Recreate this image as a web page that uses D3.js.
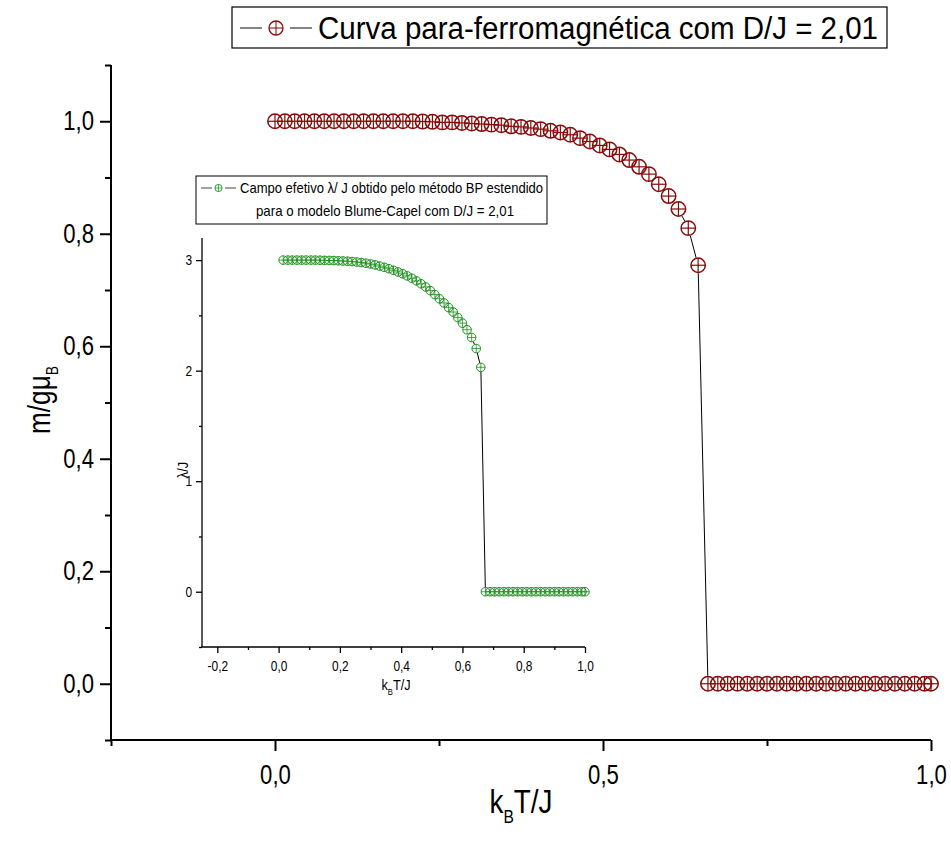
<!DOCTYPE html>
<html>
<head>
<meta charset="utf-8">
<script src="https://cdn.jsdelivr.net/npm/d3@7"></script>
<style>
  body { margin: 0; background: #fff; }
  svg { display: block; }
  text { font-family: "Liberation Sans", Arial, sans-serif; fill: #000; }
</style>
</head>
<body>
<svg id="chart" width="951" height="848"></svg>
<script>
// Magnetization m/gμB versus k_B T/J (Blume-Capel, D/J = 2,01)
const magT = [0, 0.015, 0.03, 0.045, 0.06, 0.075, 0.09, 0.105, 0.12, 0.135, 0.15, 0.165, 0.18, 0.195, 0.21,
  0.225, 0.24, 0.255, 0.27, 0.285, 0.30, 0.315, 0.33, 0.345, 0.36, 0.375, 0.39, 0.405, 0.42, 0.435,
  0.45, 0.465, 0.48, 0.495, 0.51, 0.525, 0.54, 0.555, 0.57, 0.585, 0.60, 0.615, 0.63, 0.645,
  0.66, 0.675, 0.69, 0.705, 0.72, 0.735, 0.75, 0.765, 0.78, 0.795, 0.81, 0.825, 0.84, 0.855,
  0.87, 0.885, 0.90, 0.915, 0.93, 0.945, 0.96, 0.975, 0.99, 1.0];
const magM = [1.000, 1.000, 1.000, 1.000, 1.000, 1.000, 1.000, 1.000, 1.000, 1.000, 1.000, 1.000, 1.000, 1.000, 1.000,
  0.9995, 0.999, 0.998, 0.998, 0.997, 0.996, 0.995, 0.994, 0.993, 0.991, 0.990, 0.988, 0.986, 0.983, 0.980,
  0.976, 0.970, 0.964, 0.957, 0.950, 0.941, 0.931, 0.919, 0.906, 0.888, 0.867, 0.844, 0.810, 0.744,
  0, 0, 0, 0, 0, 0, 0, 0, 0, 0, 0, 0, 0, 0,
  0, 0, 0, 0, 0, 0, 0, 0, 0, 0];

// Effective field λ/J from the extended BP method
const fieldT = [0.015, 0.03, 0.045, 0.06, 0.075, 0.09, 0.105, 0.12, 0.135, 0.15, 0.165, 0.18, 0.195, 0.21,
  0.225, 0.24, 0.255, 0.27, 0.285, 0.30, 0.315, 0.33, 0.345, 0.36, 0.375, 0.39, 0.405, 0.42, 0.435,
  0.45, 0.465, 0.48, 0.495, 0.51, 0.525, 0.54, 0.555, 0.57, 0.585, 0.60, 0.615, 0.63, 0.645, 0.66,
  0.675, 0.69, 0.705, 0.72, 0.735, 0.75, 0.765, 0.78, 0.795, 0.81, 0.825, 0.84, 0.855,
  0.87, 0.885, 0.90, 0.915, 0.93, 0.945, 0.96, 0.975, 0.99, 1.0];
const fieldL = [3.000, 3.000, 3.000, 3.000, 3.000, 3.000, 3.000, 3.000, 2.999, 2.998, 2.997, 2.996, 2.994, 2.992,
  2.990, 2.987, 2.983, 2.978, 2.972, 2.965, 2.957, 2.946, 2.935, 2.922, 2.908, 2.893, 2.876, 2.857, 2.836,
  2.812, 2.786, 2.757, 2.724, 2.688, 2.650, 2.612, 2.570, 2.530, 2.480, 2.430, 2.370, 2.300, 2.200, 2.030,
  0, 0, 0, 0, 0, 0, 0, 0, 0, 0, 0, 0, 0,
  0, 0, 0, 0, 0, 0, 0, 0, 0, 0];

// Axis ticks
const mainXMajor = [0, 0.5, 1.0];
const mainXMinor = [-0.25, 0.25, 0.75];
const mainYMajor = [0, 0.2, 0.4, 0.6, 0.8, 1.0];
const mainYMinor = [-0.1, 0.1, 0.3, 0.5, 0.7, 0.9, 1.1];
const insetXMajor = [-0.2, 0, 0.2, 0.4, 0.6, 0.8, 1.0];
const insetXMinor = [-0.1, 0.1, 0.3, 0.5, 0.7, 0.9];
const insetYMajor = [0, 1, 2, 3];
const insetYMinor = [-0.5, 0.5, 1.5, 2.5];

const legendMain = "Curva para-ferromagnética com D/J = 2,01";
const legendInset1 = "Campo efetivo λ/ J obtido pelo método BP estendido";
const legendInset2 = "para o modelo Blume-Capel com D/J = 2,01";

const fmt = d => d3.format(".1f")(d).replace(".", ",").replace("−", "-");

const svg = d3.select("#chart");
const RED = "#8b0a0a";
const GREEN = "#1d921d";

// Horizontally condense text around its anchor point
function squeeze(sel, k) {
  sel.each(function () {
    const t = d3.select(this);
    const x0 = +t.attr("x") || 0;
    t.attr("x", x0 / k).attr("transform", ((t.attr("transform") || "") + ` scale(${k},1)`).trim());
  });
}

// Main scales
const x = d3.scaleLinear([-0.25, 1.0], [111, 931]);
const y = d3.scaleLinear([-0.1, 1.1], [740, 65]);

// Inset scales
const xi = d3.scaleLinear([-0.25, 1.0], [202, 585]);
const yi = d3.scaleLinear([-0.5, 3.2], [647, 238]);

function drawAxis(g, axisGen, width) {
  g.call(axisGen);
  g.select(".domain").remove();
  g.selectAll("line").attr("stroke", "#000").attr("stroke-width", width);
}

function axes(sx, sy, opt) {
  const g = svg.append("g");
  drawAxis(g.append("g").attr("transform", `translate(0,${sy.range()[0]})`),
    d3.axisBottom(sx).tickValues(opt.xMinor).tickSize(opt.minor).tickFormat(""), opt.w);
  drawAxis(g.append("g").attr("transform", `translate(${sx.range()[0]},0)`),
    d3.axisLeft(sy).tickValues(opt.yMinor).tickSize(opt.minor).tickFormat(""), opt.w);
  const gx = g.append("g").attr("transform", `translate(0,${sy.range()[0]})`);
  drawAxis(gx, d3.axisBottom(sx).tickValues(opt.xMajor).tickSize(opt.major).tickPadding(opt.xPad).tickFormat(fmt), opt.w);
  gx.selectAll("text").attr("font-size", opt.font).attr("fill", "#000").call(squeeze, opt.k);
  const gy = g.append("g").attr("transform", `translate(${sx.range()[0]},0)`);
  drawAxis(gy, d3.axisLeft(sy).tickValues(opt.yMajor).tickSize(opt.major).tickPadding(opt.yPad).tickFormat(opt.yFmt), opt.w);
  gy.selectAll("text").attr("font-size", opt.font).attr("fill", "#000").call(squeeze, opt.k);
  svg.selectAll(".tick text").attr("font-family", null);
  g.attr("font-family", null);
  g.append("line").attr("x1", sx.range()[0] - opt.w / 2).attr("x2", sx.range()[1])
    .attr("y1", sy.range()[0]).attr("y2", sy.range()[0]).attr("stroke", "#000").attr("stroke-width", opt.w);
  g.append("line").attr("x1", sx.range()[0]).attr("x2", sx.range()[0])
    .attr("y1", sy.range()[0]).attr("y2", sy.range()[1]).attr("stroke", "#000").attr("stroke-width", opt.w);
}

// Connecting line with small gaps at each symbol
function gappedLine(xs, ys, sx, sy, gap, width) {
  const pts = xs.map((v, i) => [sx(v), sy(ys[i])]);
  const segs = [];
  for (let i = 0; i < pts.length - 1; i++) {
    const [x1, y1] = pts[i], [x2, y2] = pts[i + 1];
    const L = Math.hypot(x2 - x1, y2 - y1);
    if (L <= 2 * gap) continue;
    const ux = (x2 - x1) / L, uy = (y2 - y1) / L;
    segs.push([x1 + ux * gap, y1 + uy * gap, x2 - ux * gap, y2 - uy * gap]);
  }
  svg.append("g").selectAll("line").data(segs).join("line")
    .attr("x1", d => d[0]).attr("y1", d => d[1]).attr("x2", d => d[2]).attr("y2", d => d[3])
    .attr("stroke", "#000").attr("stroke-width", width);
}

function symbols(parent, pts, r, color, sw) {
  const g = parent.append("g").selectAll("g").data(pts).join("g")
    .attr("transform", d => `translate(${d[0]},${d[1]})`);
  g.append("circle").attr("r", r).attr("fill", "none").attr("stroke", color).attr("stroke-width", sw);
  g.append("line").attr("x1", -r).attr("x2", r).attr("stroke", color).attr("stroke-width", sw * 0.8);
  g.append("line").attr("y1", -r).attr("y2", r).attr("stroke", color).attr("stroke-width", sw * 0.8);
}

// ---------- Main plot ----------
axes(x, y, { xMajor: mainXMajor, xMinor: mainXMinor, yMajor: mainYMajor, yMinor: mainYMinor,
  major: 11, minor: 6, w: 2, font: 27, k: 0.82, xPad: 14, yPad: 6, yFmt: fmt });

gappedLine(magT, magM, x, y, 8, 1);
symbols(svg, magT.map((t, i) => [x(t), y(magM[i])]), 7.2, RED, 1.5);

// Axis titles
const yl = svg.append("text").attr("transform", "translate(50,400) rotate(-90)")
  .attr("text-anchor", "middle").attr("font-size", 32);
yl.append("tspan").text("m/gμ");
yl.append("tspan").attr("font-size", 17).attr("dy", 8).text("B");
squeeze(yl, 0.82);

const xl = svg.append("text").attr("x", 521).attr("y", 813).attr("text-anchor", "middle").attr("font-size", 34);
xl.append("tspan").text("k");
xl.append("tspan").attr("font-size", 19).attr("dy", 10).text("B");
xl.append("tspan").attr("dy", -10).text("T/J");
squeeze(xl, 0.82);

// Main legend
svg.append("rect").attr("x", 232).attr("y", 7).attr("width", 655).attr("height", 41)
  .attr("fill", "#fff").attr("stroke", "#000").attr("stroke-width", 1.2);
svg.append("line").attr("x1", 240).attr("x2", 262).attr("y1", 28).attr("y2", 28).attr("stroke", "#444").attr("stroke-width", 1.3);
svg.append("line").attr("x1", 290).attr("x2", 312).attr("y1", 28).attr("y2", 28).attr("stroke", "#444").attr("stroke-width", 1.3);
symbols(svg, [[276, 28]], 7, RED, 1.3);
svg.append("text").attr("x", 318).attr("y", 39).attr("font-size", 31)
  .attr("textLength", 560).attr("lengthAdjust", "spacingAndGlyphs").text(legendMain);

// ---------- Inset ----------
axes(xi, yi, { xMajor: insetXMajor, xMinor: insetXMinor, yMajor: insetYMajor, yMinor: insetYMinor,
  major: 6, minor: 3, w: 1.3, font: 14, k: 0.85, xPad: 8, yPad: 4, yFmt: d3.format("d") });

gappedLine(fieldT, fieldL, xi, yi, 4.5, 1);
symbols(svg, fieldT.map((t, i) => [xi(t), yi(fieldL[i])]), 4.3, GREEN, 1);

const yli = svg.append("text").attr("transform", "translate(188,470) rotate(-90)")
  .attr("text-anchor", "middle").attr("font-size", 15).text("λ/J");
squeeze(yli, 0.85);

const xli = svg.append("text").attr("x", 396).attr("y", 690).attr("text-anchor", "middle").attr("font-size", 15);
xli.append("tspan").text("k");
xli.append("tspan").attr("font-size", 9).attr("dy", 5).text("B");
xli.append("tspan").attr("dy", -5).text("T/J");
squeeze(xli, 0.85);

// Inset legend
svg.append("rect").attr("x", 196).attr("y", 176).attr("width", 351).attr("height", 48)
  .attr("fill", "#fff").attr("stroke", "#000").attr("stroke-width", 1);
svg.append("line").attr("x1", 201).attr("x2", 212).attr("y1", 188).attr("y2", 188).attr("stroke", "#444").attr("stroke-width", 1);
svg.append("line").attr("x1", 225).attr("x2", 236).attr("y1", 188).attr("y2", 188).attr("stroke", "#444").attr("stroke-width", 1);
symbols(svg, [[218.5, 188]], 3.6, GREEN, 0.9);
svg.append("text").attr("x", 240).attr("y", 193).attr("font-size", 15)
  .attr("textLength", 303).attr("lengthAdjust", "spacingAndGlyphs").text(legendInset1);
svg.append("text").attr("x", 256).attr("y", 216).attr("font-size", 15)
  .attr("textLength", 258).attr("lengthAdjust", "spacingAndGlyphs").text(legendInset2);
</script>
</body>
</html>
